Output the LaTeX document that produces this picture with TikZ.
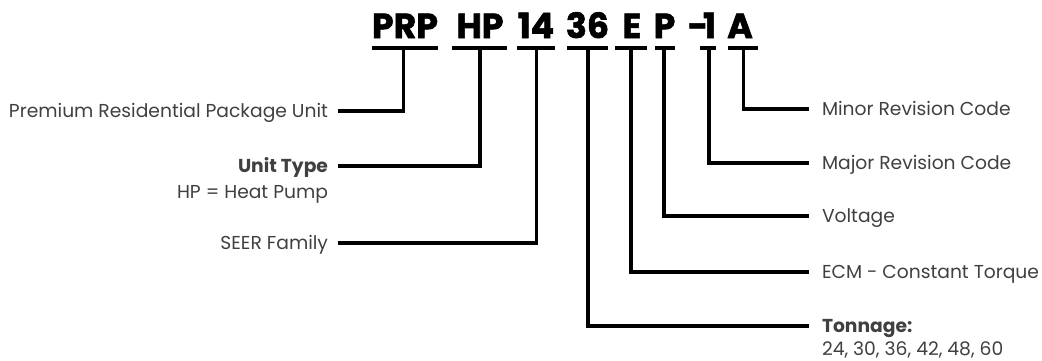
\documentclass[tikz,border=0pt]{standalone}
\usepackage{fontspec}
\setmainfont{Poppins}
\newfontfamily\codefont{Poppins}[BoldFeatures={FakeBold=1.6}]
\definecolor{txt}{HTML}{404040}
\newlength\mytmpw
\begin{document}
\settowidth\mytmpw{\fontsize{10pt}{12pt}\selectfont Premium Residential Package Unit}%
\pgfmathsetmacro\labsize{10*319/\mytmpw}%
\settoheight\mytmpw{\fontsize{\labsize pt}{\labsize pt}\selectfont H}%
\pgfmathsetmacro\labcap{\mytmpw}%
\settowidth\mytmpw{\fontsize{10pt}{12pt}\codefont\bfseries PRP}%
\pgfmathsetmacro\codesize{10*66/\mytmpw}%
\begin{tikzpicture}[x=1pt,y=-1pt]
\tikzset{
  code/.style={font=\fontsize{\codesize pt}{\codesize pt}\codefont\bfseries, inner sep=0pt, outer sep=0pt, anchor=base, text=black},
  lab/.style={font=\fontsize{\labsize pt}{\labsize pt}\selectfont, text=txt, inner sep=0pt, outer sep=0pt, text height=\labcap pt, text depth=0pt},
  labb/.style={lab, font=\fontsize{\labsize pt}{\labsize pt}\selectfont\bfseries},
  bar/.style={line width=3.4pt, black},
  conn/.style={line width=3.6pt, black, line join=miter}
}
\useasboundingbox (0,0) rectangle (1042,360);
% code letters
\node[code] (PRP) at (405,38) {PRP};
\node[code] (HP) at (480,38) {HP};
\node[code] (n14) at (536,38) {14};
\node[code] (n36) at (587.5,38) {36};
\node[code] (E) at (632,38) {E};
\node[code] (P) at (664.5,38) {P};
\node[code] (m1) at (702,38) {-\kern-5pt1};
\node[code] (A) at (740,38) {A};
% bars
\draw[bar] (372,48) -- (438,48);
\draw[bar] (452,48) -- (507,48);
\draw[bar] (517,48) -- (555,48);
\draw[bar] (567,48) -- (608,48);
\draw[bar] (615,48) -- (647,48);
\draw[bar] (655,48) -- (675,48);
\draw[bar] (700,48) -- (716,48);
\draw[bar] (728,48) -- (758,48);
% bar taps
\coordinate (vPRP) at (403.5,48);
\coordinate (vHP) at (480,48);
\coordinate (v14) at (536.5,48);
\coordinate (v36) at (588,48);
\coordinate (vE) at (631,48);
\coordinate (vP) at (664,48);
\coordinate (vm1) at (709,48);
\coordinate (vA) at (743.5,48);
% left labels
\node[lab, anchor=east] (lPRP) at (328,111) {Premium Residential Package Unit};
\node[labb, anchor=east] (lHP) at (328,166) {Unit Type};
\node[lab, anchor=east] (lHPb) at (328,192) {HP = Heat Pump};
\node[lab, anchor=east] (l14) at (328,243) {SEER Family};
% right labels
\node[lab, anchor=west] (lA) at (822,109) {Minor Revision Code};
\node[lab, anchor=west] (lm1) at (822,163) {Major Revision Code};
\node[lab, anchor=west] (lP) at (822,216) {Voltage};
\node[lab, anchor=west] (lE) at (822,272) {ECM - Constant Torque};
\node[labb, anchor=west] (l36) at (822,326) {Tonnage:};
\node[lab, anchor=west] (l36b) at (822,349) {24, 30, 36, 42, 48, 60};
% connectors
\draw[conn] (vPRP) |- ([xshift=10pt]lPRP.east);
\draw[conn] (vHP) |- ([xshift=10pt]lHP.east);
\draw[conn] (v14) |- ([xshift=10pt]l14.east);
\draw[conn] (vA) |- ([xshift=-13pt]lA.west);
\draw[conn] (vm1) |- ([xshift=-13pt]lm1.west);
\draw[conn] (vP) |- ([xshift=-13pt]lP.west);
\draw[conn] (vE) |- ([xshift=-13pt]lE.west);
\draw[conn] (v36) |- ([xshift=-13pt]l36.west);
\end{tikzpicture}
\end{document}
